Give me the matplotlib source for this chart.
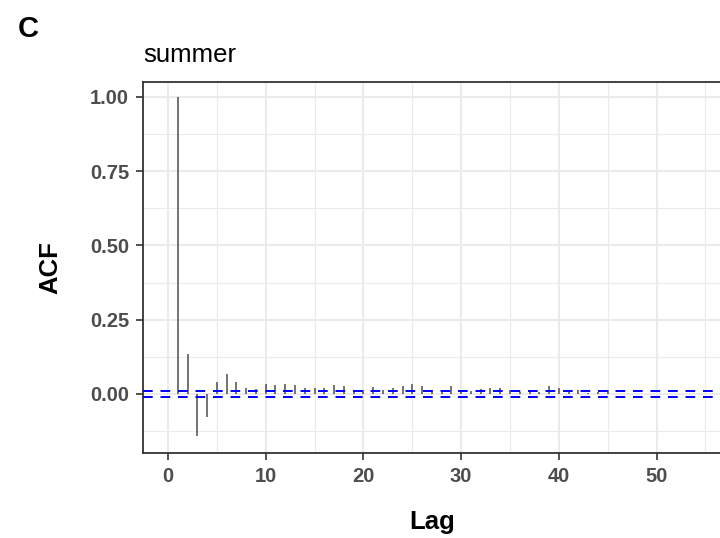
import numpy as np
import matplotlib.pyplot as plt
from matplotlib.ticker import MultipleLocator

plt.rcParams['font.family'] = ['Liberation Sans', 'DejaVu Sans']

# ACF values, lags 1..45
lags = np.arange(1, 46)
acf = [1.00, 0.135, -0.14, -0.077, 0.04, 0.067, 0.04, 0.02, 0.017, 0.034,
       0.03, 0.034, 0.03, 0.02, 0.02, 0.02, 0.03, 0.027, 0.013, 0.012,
       0.024, 0.013, 0.02, 0.027, 0.034, 0.027, 0.013, 0.01, 0.027, 0.01,
       0.01, 0.017, 0.02, 0.02, 0.013, 0.007, 0.013, 0.007, 0.027, 0.02,
       0.01, 0.013, 0.005, 0.007, 0.013]
conf_limit = 0.0105
panel_title = "summer"
xticks = [0, 10, 20, 30, 40, 50]
yticks = [0.00, 0.25, 0.50, 0.75, 1.00]

W, H = 720, 538
fig = plt.figure(figsize=(W / 100, H / 100), dpi=100)
left, right, top, bottom = 143, 722, 82, 453
ax = fig.add_axes([left / W, 1 - bottom / H, (right - left) / W, (bottom - top) / H])

ax.set_xlim(-2.56, 56.7)
ax.set_ylim(-0.1987, 1.0505)

# grid (theme_bw look)
ax.set_axisbelow(True)
ax.xaxis.set_minor_locator(MultipleLocator(5))
ax.yaxis.set_minor_locator(MultipleLocator(0.125))
ax.grid(which='major', color='#ebebeb', lw=1.5)
ax.grid(which='minor', color='#ebebeb', lw=0.8)
ax.tick_params(which='minor', length=0)

ax.vlines(lags, 0, acf, color='#4d4d4d', lw=1.1, zorder=3)
for c in (conf_limit, -conf_limit):
    ax.axhline(c, color='#0000ff', lw=1.4, ls=(0, (5, 4)), zorder=4)

for s in ax.spines.values():
    s.set_color('#333333')
    s.set_linewidth(1.3)

ax.set_xticks(xticks)
ax.set_yticks(yticks)
ax.set_yticklabels([f"{v:.2f}" for v in yticks])
ax.tick_params(which='major', length=5, width=1.2, color='#333333',
               labelsize=14.5, labelcolor='#4d4d4d', pad=5)
for lab in ax.get_xticklabels() + ax.get_yticklabels():
    lab.set_fontweight('bold')

ax.set_xlabel("Lag", fontsize=18.5, fontweight='bold', labelpad=17)
ax.set_ylabel("ACF", fontsize=18.5, fontweight='bold', labelpad=20)

ax.text(0, 1.054, panel_title, transform=ax.transAxes, fontsize=18.5,
        ha='left', va='baseline')
fig.text(18 / W, 1 - 37 / H, "C", fontsize=21, fontweight='bold',
         ha='left', va='baseline')

fig.savefig("out.png", dpi=100)
